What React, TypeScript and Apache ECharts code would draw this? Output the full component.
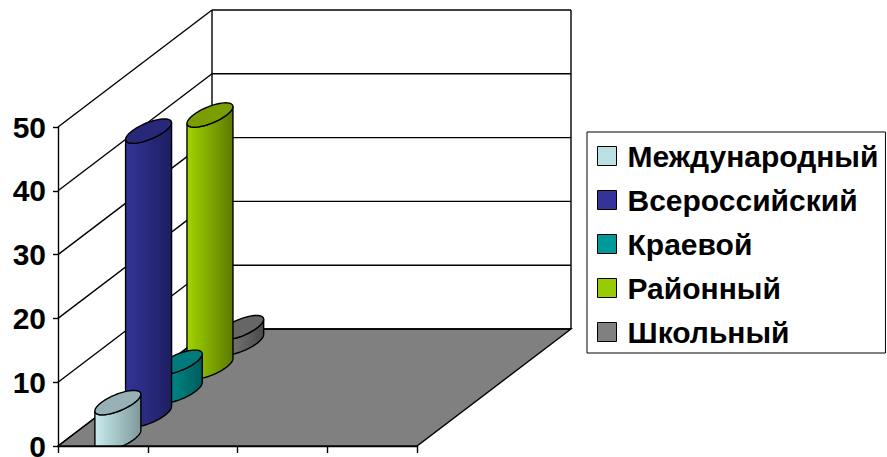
import React, { useEffect, useRef } from "react";
import * as echarts from "echarts";

const categories = ["", "", "", ""];
const seriesNames = ["Международный", "Всероссийский", "Краевой", "Районный", "Школьный"];
const seriesValues = [5.7, 44.5, 4.5, 39.5, 2.4];
const yTicks = [0, 10, 20, 30, 40, 50];
const legendColors = ["#BBE0E3", "#333399", "#009999", "#99CC00", "#808080"];
const sideLeft = ["#C8ECEE", "#343498", "#009999", "#A2D400", "#858585"];
const sideRight = ["#7E989A", "#1E1E62", "#005C5C", "#5C7A00", "#4A4A4A"];
const capColors = ["#96B2B6", "#28287A", "#007A7A", "#7A9E00", "#666666"];

const FONT = "'Liberation Sans', Arial, sans-serif";
const DEPTH_X = 154;
const DEPTH_Y = 117;
const START_X = 15;
const START_Y = 7;
const STEP_X = 30.7;
const STEP_Y = 24;
const RX = 16.7;
const DX = 15.8;
const DY = 12.2;
const LW = 1.4;

function ellipsePoints(cx: number, cy: number, from: number, to: number, n: number) {
  const pts: number[][] = [];
  for (let i = 0; i <= n; i++) {
    const t = from + ((to - from) * i) / n;
    pts.push([cx + RX * Math.cos(t) + DX * Math.sin(t), cy - DY * Math.sin(t)]);
  }
  return pts;
}

function cylinderRenderer(index: number) {
  return (_params: any, api: any) => {
    const base = api.coord([0, 0]);
    const top = api.coord([api.value(0), api.value(1)]);
    const cx = base[0] + START_X + STEP_X * index;
    const baseY = base[1] - START_Y - STEP_Y * index;
    const topY = top[1] - START_Y - STEP_Y * index;
    const t0 = Math.atan2(DX, RX);
    const front = ellipsePoints(cx, baseY, t0 + Math.PI, t0 + 2 * Math.PI, 28).map((p) => [p[0], Math.min(p[1], base[1])]);
    const backTop = ellipsePoints(cx, topY, t0 + 2 * Math.PI, t0 + Math.PI, 28);
    const cap = ellipsePoints(cx, topY, 0, Math.PI * 2, 56);
    return {
      type: "group",
      children: [
        {
          type: "polygon",
          shape: { points: [...front, ...backTop] },
          style: {
            fill: new echarts.graphic.LinearGradient(0, 0, 1, 0, [
              { offset: 0, color: sideLeft[index] },
              { offset: 1, color: sideRight[index] },
            ]),
            stroke: "#000",
            lineWidth: LW,
          },
        },
        {
          type: "polygon",
          shape: { points: cap },
          style: { fill: capColors[index], stroke: "#000", lineWidth: LW },
        },
      ],
    };
  };
}

function wallsRenderer(params: any, api: any) {
  const g = params.coordSys;
  const x0 = g.x;
  const y0 = g.y + g.height;
  const x1 = g.x + g.width;
  const line = { stroke: "#000", lineWidth: LW };
  const y = api.coord([0, api.value(1)])[1];
  const children: any[] = [
    { type: "line", shape: { x1: x0, y1: y, x2: x0 + DEPTH_X, y2: y - DEPTH_Y }, style: line },
    { type: "line", shape: { x1: x0 + DEPTH_X, y1: y - DEPTH_Y, x2: x1 + DEPTH_X, y2: y - DEPTH_Y }, style: line },
  ];
  if (params.dataIndex === 0) {
    children.unshift({
      type: "polygon",
      shape: {
        points: [
          [x0, y0],
          [x1, y0],
          [x1 + DEPTH_X, y0 - DEPTH_Y],
          [x0 + DEPTH_X, y0 - DEPTH_Y],
        ],
      },
      style: { fill: "#808080", ...line },
    });
    children.push(
      { type: "line", shape: { x1: x0 + DEPTH_X, y1: y0 - DEPTH_Y, x2: x0 + DEPTH_X, y2: g.y - DEPTH_Y }, style: line },
      { type: "line", shape: { x1: x1 + DEPTH_X, y1: y0 - DEPTH_Y, x2: x1 + DEPTH_X, y2: g.y - DEPTH_Y }, style: line }
    );
  }
  return { type: "group", children };
}

export default function App() {
  const ref = useRef<HTMLDivElement>(null);
  useEffect(() => {
    document.body.style.margin = "0";
    const chart = echarts.init(ref.current!, undefined, { renderer: "svg" });
    chart.setOption({
      animation: false,
      backgroundColor: "#fff",
      grid: { left: 58, top: 127, width: 359, height: 319, outerBoundsMode: "none" },
      xAxis: {
        type: "category",
        data: categories,
        axisLine: { show: true, lineStyle: { color: "#000", width: LW } },
        axisTick: { show: true, length: 7, lineStyle: { color: "#000", width: LW } },
        axisLabel: { show: false },
      },
      yAxis: {
        type: "value",
        min: 0,
        max: 50,
        interval: 10,
        splitLine: { show: false },
        axisLine: { show: true, lineStyle: { color: "#000", width: LW } },
        axisTick: { show: true, length: 5, lineStyle: { color: "#000", width: LW } },
        axisLabel: {
          color: "#000",
          fontFamily: FONT,
          fontWeight: "bold",
          fontSize: 30,
          lineHeight: 22,
          margin: 12,
          formatter: (v: number) => String(v),
        },
      },
      legend: {
        orient: "vertical",
        left: 587,
        top: 132,
        data: seriesNames,
        selectedMode: false,
        icon: "rect",
        itemWidth: 19,
        itemHeight: 19,
        itemGap: 10,
        padding: [7, 7, 4, 10],
        borderColor: "#000",
        borderWidth: 1,
        backgroundColor: "#fff",
        itemStyle: { borderColor: "#000", borderWidth: 1 },
        textStyle: { color: "#000", fontFamily: FONT, fontWeight: "bold", fontSize: 30, padding: [0, 0, 0, 6], lineHeight: 34 },
      },
      series: [
        {
          name: "walls",
          type: "custom",
          z: 1,
          silent: true,
          renderItem: wallsRenderer,
          encode: { x: 0, y: 1 },
          data: yTicks.map((v) => [0, v]),
        },
        ...seriesNames.map((name, i) => ({
          name,
          type: "custom",
          z: 20 - i,
          silent: true,
          itemStyle: { color: legendColors[i] },
          renderItem: cylinderRenderer(i),
          encode: { x: 0, y: 1 },
          data: [[0, seriesValues[i]]],
        })),
      ],
    });
    return () => chart.dispose();
  }, []);
  return <div ref={ref} style={{ position: "fixed", left: 0, top: 0, width: 887, height: 457 }} />;
}
